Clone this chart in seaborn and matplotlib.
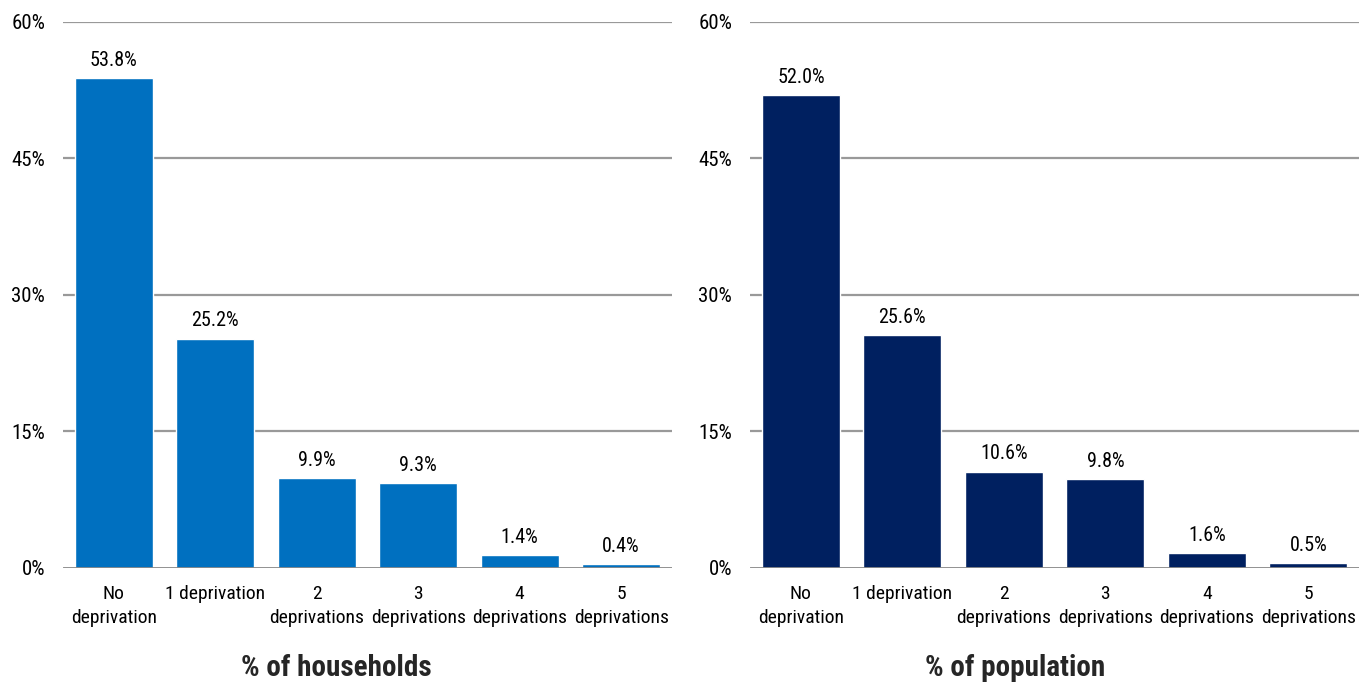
import matplotlib
matplotlib.use("Agg")
import matplotlib.pyplot as plt
import seaborn as sns
import pandas as pd

categories = ["No\ndeprivation", "1 deprivation", "2\ndeprivations", "3\ndeprivations", "4\ndeprivations", "5\ndeprivations"]
households = [53.8, 25.2, 9.9, 9.3, 1.4, 0.4]
population = [52.0, 25.6, 10.6, 9.8, 1.6, 0.5]
titles = ["% of households", "% of population"]
colors = ["#0070C0", "#002060"]
yticks = [0, 15, 30, 45, 60]

sns.set_theme(style="white")
plt.rcParams['font.family'] = ['Roboto Condensed', 'DejaVu Sans']
plt.rcParams['text.color'] = 'black'
plt.rcParams['xtick.color'] = 'black'
plt.rcParams['ytick.color'] = 'black'

fig = plt.figure(figsize=(13.59, 6.83), dpi=100)
axes = [fig.add_axes([0.0464, 0.1684, 0.448, 0.7994]),
        fig.add_axes([0.552, 0.1684, 0.448, 0.7994])]
title_x = [0.448, 0.435]

for ax, vals, title, col, tx in zip(axes, [households, population], titles, colors, title_x):
    df = pd.DataFrame({"cat": categories, "val": vals})
    sns.barplot(data=df, x="cat", y="val", color=col, saturation=1, width=0.77, ax=ax)
    ax.set_xlim(-0.5, 5.5)
    ax.set_ylim(0, 60)
    ax.set_yticks(yticks)
    ax.set_yticklabels([f"{t}%" for t in yticks], fontsize=15)
    ax.tick_params(axis='x', labelsize=14, length=0, pad=12)
    for lab in ax.get_xticklabels():
        lab.set_linespacing(1.45)
    ax.tick_params(axis='y', length=0, pad=13)
    for t in yticks[1:]:
        ax.axhline(t, color="#999999", lw=1.6, zorder=0)
    ax.axhline(0, color="#888888", lw=2, zorder=3)
    for s in ax.spines.values():
        s.set_visible(False)
    for p, v in zip(ax.patches, vals):
        ax.text(p.get_x() + p.get_width() / 2, v + 0.9, f"{v:.1f}%", ha="center", va="bottom", fontsize=14.5)
    ax.set_xlabel(title, fontsize=21, fontweight="bold")
    ax.xaxis.label.set_va("center")
    ax.xaxis.set_label_coords(tx, -0.183)
    ax.set_ylabel("")

fig.savefig("out.png", dpi=100)
